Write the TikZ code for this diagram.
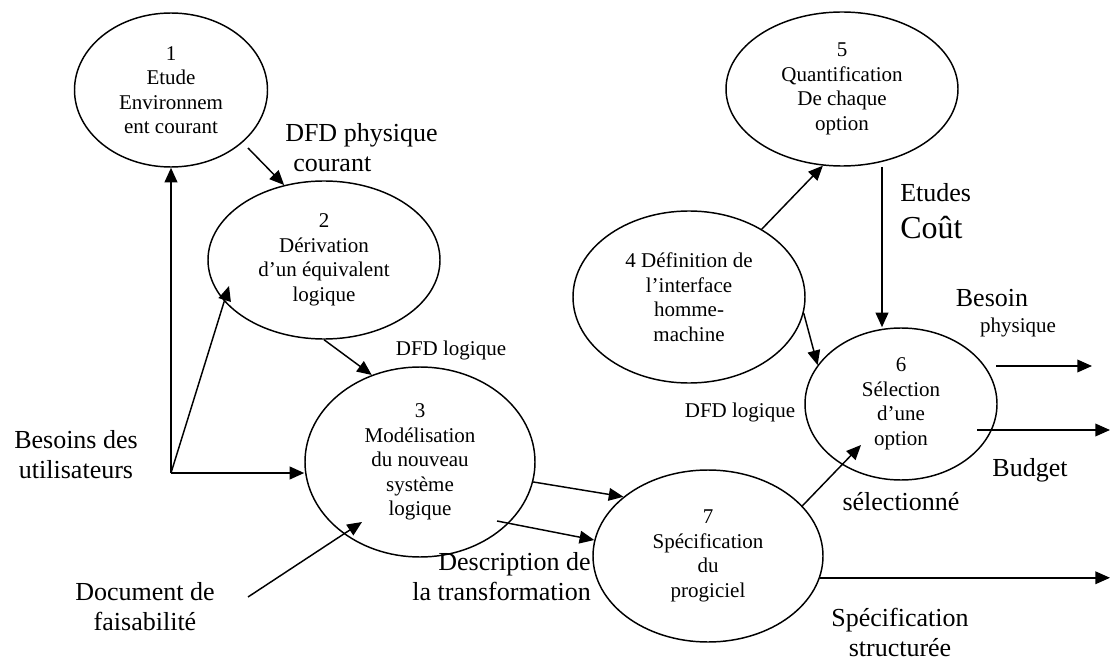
\documentclass[tikz,border=0pt]{standalone}
\usepackage{fontspec}
\setmainfont{Liberation Serif}
\usetikzlibrary{arrows.meta,shapes.geometric,calc}

\newcommand{\procfont}{\fontsize{15.75pt}{18.4pt}\selectfont}
\newcommand{\lblfont}{\fontsize{19.5pt}{22.5pt}\selectfont}
\newcommand{\coutfont}{\fontsize{24pt}{28pt}\selectfont}

\tikzset{
  proc/.style={draw, ellipse, line width=1.1pt, inner sep=0pt, align=center, font=\procfont},
  flow/.style={-{Triangle[length=11pt,width=9.5pt]}, line width=1.1pt},
  mainflow/.style={flow, line width=1.6pt},
  lbl/.style={inner sep=0pt, align=center, font=\lblfont},
  smalllbl/.style={inner sep=0pt, font=\procfont}
}

\begin{document}
\begin{tikzpicture}[x=0.75pt, y=-0.75pt]
    \useasboundingbox (0,0) rectangle (1114,663);

    % Ellipses for the processes
    \node[proc, minimum width=144.75pt, minimum height=115.5pt] (etude) at (171,90) {1\\Etude\\Environnem\\ent courant};
    \node[proc, minimum width=174pt, minimum height=118.5pt] (derivation) at (324,260) {2\\Dérivation\\d’un équivalent\\logique};
    \node[proc, minimum width=172.5pt, minimum height=142.5pt] (modelisation) at (420,462) {3\\Modélisation\\du nouveau\\système\\logique};
    \node[proc, minimum width=174pt, minimum height=129pt] (interface) at (689,297) {4 Définition de\\l’interface\\homme-\\machine};
    \node[proc, minimum width=174pt, minimum height=115.5pt] (quantif) at (842,89) {5\\Quantification\\De chaque\\option};
    \node[proc, minimum width=144pt, minimum height=114pt] (selection) at (901,404) {6\\Sélection\\d’une\\option};
    \node[proc, minimum width=172.5pt, minimum height=129pt] (specif) at (708,556) {7\\Spécification\\du\\progiciel};

    % Flow labels
    \node[lbl] (besoins) at (76,455) {Besoins des\\utilisateurs};
    \node[lbl] (docfais) at (145,607) {Document de\\faisabilité};
    \node[lbl, anchor=west, align=left] (dfdphys) at (285,148) {DFD physique\\\hspace*{6pt}courant};
    \node[smalllbl] (dfdlog) at (451,350) {DFD logique};
    \node[smalllbl] (dfdlogsel) at (740,412) {DFD logique};
    \node[lbl, anchor=west] (etudes) at (900,193) {Etudes};
    \node[inner sep=0pt, font=\coutfont, anchor=west] (cout) at (900,228) {Coût};
    \node[lbl] (besoin) at (992,298) {Besoin};
    \node[smalllbl] (physique) at (1018,327) {physique};
    \node[lbl] (budget) at (1030,470) {Budget};
    \node[lbl] (selectionne) at (901,502) {sélectionné};
    \node[lbl, anchor=east, align=right] (descr) at (591,577) {Description de\\la transformation};
    \node[lbl] (specstruct) at (900,632) {Spécification\\structurée};

    % Free ends
    \coordinate (split) at (171,473);
    \coordinate (etudeout) at (248,148);
    \coordinate (derin) at (229,286);
    \coordinate (docout) at (248,597);
    \coordinate (docin) at (362,522);
    \coordinate (modout) at (497,521);
    \coordinate (selin) at (861,445);
    \coordinate (coutout) at (882,167);
    \coordinate (phyout) at (996,366);
    \coordinate (phyend) at (1092,366);
    \coordinate (budout) at (977,430);
    \coordinate (budend) at (1110,430);
    \coordinate (specend) at (1110,578);

    % Arrows
    \draw[mainflow] (split) -- (split |- etude.south);
    \draw[flow] (split) -- (derin);
    \draw[mainflow] (split) -- (split -| modelisation.west);
    \draw[flow] (etudeout) -- (derivation.118);
    \draw[flow] (derivation.south) -- (modelisation.119);
    \draw[flow] (docout) -- (docin);
    \draw[flow] (modelisation.-10) -- (specif.145);
    \draw[flow] (modout) -- (specif.172);
    \draw[flow] (specif.28) -- (selin);
    \draw[flow] (interface.43) -- (quantif.256);
    \draw[mainflow] (coutout) -- (coutout |- selection.north);
    \draw[flow] (interface.-8) -- (selection.155);
    \draw[flow] (phyout) -- (phyend);
    \draw[flow] (budout) -- (budend);
    \draw[flow] (specif.-11) -- (specif.-11 -| specend);
\end{tikzpicture}
\end{document}
